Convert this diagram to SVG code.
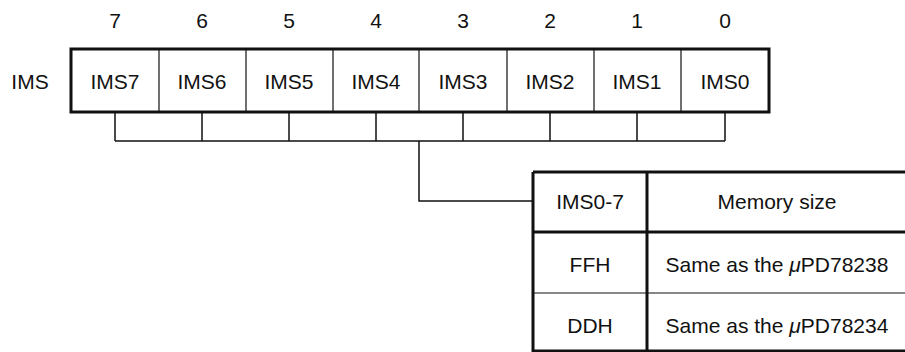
<svg xmlns="http://www.w3.org/2000/svg" width="905" height="352" viewBox="0 0 905 352">
<style>
text{font-family:"Liberation Sans",Arial,sans-serif;font-size:21px;fill:#111;text-anchor:middle}
.thick{fill:none;stroke:#111;stroke-width:3}
.thin{fill:none;stroke:#111;stroke-width:1.2}
.conn{fill:none;stroke:#111;stroke-width:1.5}
</style>
<rect width="905" height="352" fill="#fff"/>
<g id="bit-numbers">
<text x="115" y="28">7</text><text x="202" y="28">6</text><text x="289" y="28">5</text><text x="376" y="28">4</text>
<text x="463" y="28">3</text><text x="550" y="28">2</text><text x="637" y="28">1</text><text x="725" y="28">0</text>
</g>
<g id="label-ims"><text x="30" y="89">IMS</text></g>
<g id="register">
<rect class="thick" x="71" y="49" width="698" height="63"/>
<path class="thin" d="M159 49V112M246 49V112M333 49V112M419 49V112M507 49V112M594 49V112M681 49V112"/>
<text x="115" y="89">IMS7</text><text x="202" y="89">IMS6</text><text x="289" y="89">IMS5</text><text x="376" y="89">IMS4</text>
<text x="463" y="89">IMS3</text><text x="550" y="89">IMS2</text><text x="637" y="89">IMS1</text><text x="725" y="89">IMS0</text>
</g>
<g id="connectors">
<path class="conn" d="M115 112V141M202 112V141M289 112V141M376 112V141M463 112V141M550 112V141M637 112V141M725 112V141M115 141H725"/>
<path class="conn" d="M419 141V201H533"/>
</g>
<g id="table">
<path class="thick" d="M533 172H910M533 232H910M533 351H910M533 172V352M647 172V352"/>
<path class="thin" d="M533 293H910"/>
<text x="590" y="209">IMS0-7</text><text x="777" y="209">Memory size</text>
<text x="590" y="272">FFH</text><text x="777" y="272">Same as the <tspan font-style="italic">μ</tspan>PD78238</text>
<text x="590" y="333">DDH</text><text x="777" y="333">Same as the <tspan font-style="italic">μ</tspan>PD78234</text>
</g>
</svg>
